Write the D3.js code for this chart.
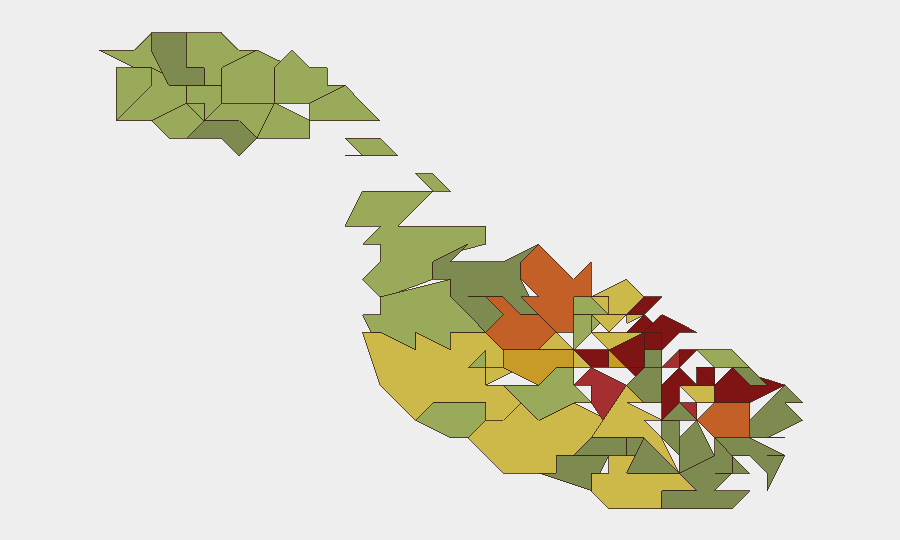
<!DOCTYPE html>
<html>
<head>
<meta charset="utf-8">
<title>Malta</title>
<script src="https://cdn.jsdelivr.net/npm/d3@7"></script>
<style>
body { margin: 0; background: #eeeeee; }
svg { display: block; }
</style>
</head>
<body>
<svg id="map" width="900" height="540"></svg>
<script>
// council areas, rings of [col, row] on the map's tile grid, one list per class
var classA = [ // light green
  [[0,1],[2,1],[3,0],[3,1],[3.67,2.33],[3,2],[2,2]],
  [[1,2],[3,2],[3,3],[1,5]],
  [[1,5],[3,3],[3,2],[3.67,2.33],[4,3],[5,3],[5,4],[3,5],[4,5],[3,5]],
  [[3,5],[5,4],[6,5],[5,6],[4,6]],
  [[5,3],[7,3],[7,4],[6,5],[6,4],[5,4]],
  [[5,4],[6,4],[6,5]],
  [[5,0],[7,0],[8,1],[9,1],[7,2],[7,3],[6,3],[6,2],[5,2]],
  [[7,2],[9,1],[10.4,1.67],[10,2],[10,4],[7,4]],
  [[10,2],[11,1],[12,2],[13,2],[13,3],[14,3],[12,4],[10,4]],
  [[12,4],[14,3],[16,5],[12,5]],
  [[7,4],[10,4],[9,6],[8,5],[6,5]],
  [[10,4],[12,5],[12,6],[9,6]],
  [[14,6],[16,6],[17,7],[14,7],[15,7]],
  [[18,8],[19,8],[20,9],[19,9]],
  [[15,9],[19,9],[17,11],[22,11],[22,12],[20.5,12.4],[21,12],[19,13],[19,14],[16.3,15],[17,15],[16,15],[15,14],[16,13],[16,12],[15,12],[16,11],[14,11]],
  [[16,15],[20,14],[20,15],[22,17],[20,17],[20,18],[18,17],[18,18],[16,17],[15.5,17],[15,16],[16,16]],
  [[22,18],[22,19],[21,19]],
  [[23,20],[25,20],[26,19],[27,19],[27,20],[28,21],[27,21],[25,22],[24,21]],
  [[19,21],[22,21],[22,22],[21,23],[20,23],[18,22]],
  [[27,15],[28,15],[29,16],[27,16]],
  [[27,16],[28,16],[28,17],[27,18]],
  [[28,16],[28.5,16.5],[28,17]],
  [[34,18],[36,18],[37,19],[35,19]]
];
var classB = [ // olive
  [[3,0],[5,0],[5,2],[6,2],[6,3],[4,3],[3,1]],
  [[6,5],[8,5],[9,6],[8,7],[7,6],[5,6]],
  [[19,13],[21,12],[20,13],[23,13],[25,12],[24,13],[24,14],[25,16],[24,16],[23,15],[21,15],[22,15],[23,16],[22,17],[20,15],[20,14],[19,14]],
  [[27,24],[28,23],[30,23],[30,24]],
  [[30,23],[31,23],[30.5,24],[30,24]],
  [[25,25],[26,25],[26,24],[29,24],[28.5,25],[28,25],[28,26]],
  [[31,23],[33,25],[30,25]],
  [[31,18],[32,18],[32,19],[31,19]],
  [[30,20],[31,19],[32,19],[32,21],[31,21]],
  [[32,22],[33,22],[33,24],[32,23]],
  [[33,21],[34,22],[32,22]],
  [[36,19],[37,19],[38,20],[37,20]],
  [[37,22],[39,20],[40,21],[39,21],[40,22],[38,23],[39,23],[37,23]],
  [[33,23],[34,22],[35,24],[33,25]],
  [[35,23],[37,23],[39,24],[38,24],[39,24],[38,26],[38,25],[37,24],[36,24]],
  [[36,24],[37,25],[36,25]],
  [[33,25],[35,24],[35,23],[36,24],[36,25],[35,25],[36,25],[35,26],[37,26],[36,27],[32,27],[32,26],[34,26]]
];
var classC = [ // yellow
  [[15,17],[16,17],[18,18],[18,17],[20,18],[20,17],[22,17],[23,18],[23,19],[22,19],[22,20],[23,20],[24,21],[23,22],[22,22],[22,21],[19,21],[18,22],[16,20]],
  [[22,19],[23,19],[23.5,19.25],[22,20]],
  [[21,23],[22,22],[23,22],[24,21],[25,22],[27,21],[29,22],[28,23],[27,24],[26,24],[26,25],[23,25]],
  [[28,23],[30,20],[31,21],[30,21],[32,22],[31,22],[32,23],[33,25],[31,23]],
  [[28,25],[29,25],[29,24],[30,24],[30.5,24],[30,25],[33,25],[34,26],[32,26],[32,27],[29,27],[28,26]],
  [[25,18],[26,17],[27,18]],
  [[28,15],[30,14],[31,15],[30,16],[29,16],[29,15]],
  [[28,15],[29,15],[29,16]],
  [[28,16],[30,16],[29,17]],
  [[28,17],[31,17],[29,18]],
  [[30,16],[31,16],[30,16.5]],
  [[27,18],[28,19],[27,19]],
  [[33,20],[35,20],[35,21],[34,21]]
];
var classD = [ // amber
  [[23,18],[27,18],[27,19],[26,19],[25,20],[23,19]],
  [[29,18],[30,19],[29,19]]
];
var classE = [ // orange
  [[24,13],[25,12],[27,14],[28,13],[28,15],[27,15],[27,17],[26,17],[24,15],[25,15],[24,14]],
  [[22,15],[23,15],[24,16],[25,16],[26,17],[25,18],[23,18],[22,17],[23,16]],
  [[34,22],[35,21],[37,21],[37,23],[35,23]]
];
var classF = [ // red
  [[27,20],[28,19],[30,20],[28.67,22],[28,21],[28,20]],
  [[32,19],[33,18],[33,19]],
  [[33,21],[34,21],[34,22]]
];
var classG = [ // dark red
  [[30,16],[31,15],[32,15],[31,16]],
  [[31,16],[31.5,16.5],[31,17],[30,17]],
  [[32,16],[34,17],[33,17],[32,18],[32,17],[31,17],[31.5,16.5]],
  [[29,18],[31,17],[31,19],[30,19]],
  [[31,17],[32,17],[32,18],[31,18]],
  [[27,18],[29,18],[29,19],[28,19]],
  [[30,19],[31,19],[30.5,19.5]],
  [[33,18],[34,18],[33,19]],
  [[32,20],[33,19],[34,20],[33,20],[33,21],[32,22]],
  [[34,19],[35,19],[35,20]],
  [[34,19],[35,20],[34,20]],
  [[35,20],[36,19],[37,20],[38,20],[37.55,19.55],[39,20],[37,21],[35,21]]
];

// yellow first, the small green enclave sits on top of it
var classes = [classC, classA, classB, classD, classE, classF, classG];
var fills = ["#cdb84a", "#9aaa5b", "#7d8a50", "#c89a28", "#c26027", "#a52e30", "#7e1414"];

var x = d3.scaleLinear().domain([0, 40]).range([98.5, 802.5]);
var y = d3.scaleLinear().domain([0, 27]).range([32.5, 508.5]);

var ring = d3.line()
  .x(d => x(d[0]))
  .y(d => y(d[1]))
  .curve(d3.curveLinearClosed);

var svg = d3.select("#map");

svg.selectAll("g")
  .data(classes)
  .join("g")
  .attr("fill", (d, i) => fills[i])
  .selectAll("path")
  .data(d => d)
  .join("path")
  .attr("d", ring)
  .attr("stroke", "#3a2218")
  .attr("stroke-width", 0.8)
  .attr("shape-rendering", "crispEdges");
</script>
</body>
</html>
